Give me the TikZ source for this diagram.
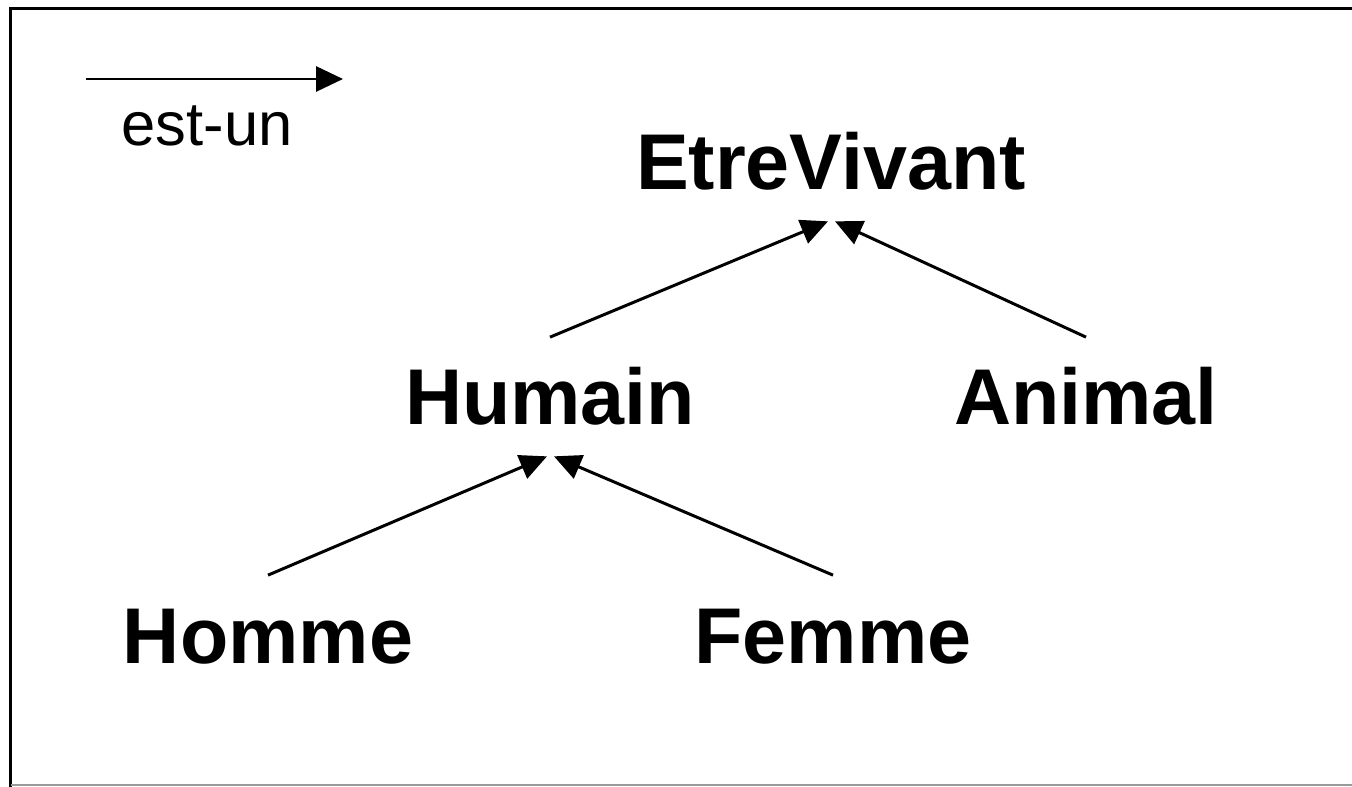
\documentclass[tikz,border=0pt]{standalone}
\usepackage{fontspec}
\setmainfont{Liberation Sans}
\usetikzlibrary{arrows.meta}

\tikzset{
    concept/.style={font=\fontsize{45}{54}\selectfont\bfseries, anchor=base,
        text height=1.13cm, text depth=0pt, inner xsep=0pt, inner ysep=0.62cm},
    estun/.style={line width=1.7pt, -{Triangle[length=0.54cm, width=0.5cm]}}
}

\begin{document}
\begin{tikzpicture}
    % Cadre et bornes de l'image
    \useasboundingbox (0,0) rectangle (27.04,-15.74);
    \fill[white] (0,0) rectangle (27.04,-15.74);
    \draw[line width=2.2pt] (27.2,-0.17) -- (0.21,-0.17) -- (0.21,-15.8);
    \draw[line width=1.2pt, black!40] (0.21,-15.7) -- (27.2,-15.7);

    % Légende
    \coordinate (legA) at (1.72,-1.58);
    \coordinate (legB) at (6.86,-1.58);
    \draw[estun] (legA) -- (legB);
    \node[anchor=base, font=\fontsize{35}{42}\selectfont, inner sep=0pt] (legende) at (4.14,-2.92) {est-un};

    % Concepts
    \node[concept] (EtreVivant) at (16.62,-3.80) {EtreVivant};
    \node[concept] (Humain) at (11.00,-8.50) {Humain};
    \node[concept] (Animal) at (21.72,-8.50) {Animal};
    \node[concept] (Homme) at (5.36,-13.26) {Homme};
    \node[concept] (Femme) at (16.66,-13.26) {Femme};

    % Relations est-un
    \draw[estun] (Humain.north) -- ([xshift=-0.06cm]EtreVivant.south);
    \draw[estun] (Animal.north) -- ([xshift=0.08cm]EtreVivant.south);
    \draw[estun] (Homme.north) -- ([xshift=-0.06cm]Humain.south);
    \draw[estun] (Femme.north) -- ([xshift=0.08cm]Humain.south);
\end{tikzpicture}
\end{document}
